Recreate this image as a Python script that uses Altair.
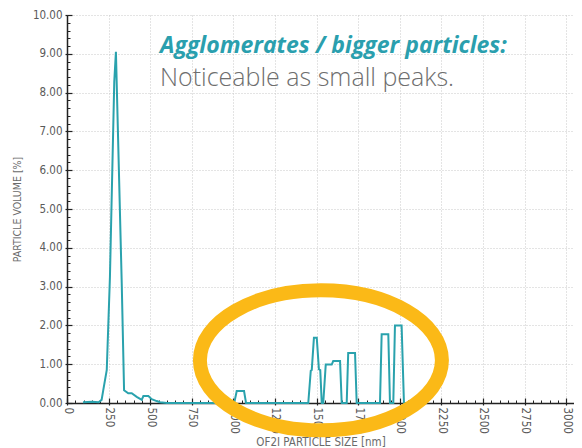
import altair as alt
import pandas as pd

# ---- data ----
size_nm = [96, 150, 190, 208, 218, 239, 258, 284, 294, 329, 343, 368, 389, 419, 449, 459,
           489, 509, 539, 559, 600, 1005, 1020, 1064, 1076, 1450, 1465, 1471, 1484, 1501,
           1514, 1522, 1531, 1540, 1555, 1591, 1600, 1641, 1651, 1681, 1690, 1731, 1741,
           1881, 1891, 1931, 1941, 1961, 1971, 2011, 2025, 2100]
volume = [0.02, 0.03, 0.02, 0.08, 0.33, 0.85, 3.24, 8.28, 9.05, 3.07, 0.33, 0.25, 0.25,
          0.16, 0.08, 0.18, 0.18, 0.10, 0.05, 0.02, 0.0, 0.0, 0.31, 0.31, 0.0, 0.0, 0.83,
          0.85, 1.68, 1.68, 0.87, 0.85, 0.0, 0.0, 0.99, 0.99, 1.08, 1.08, 0.0, 0.0, 1.29,
          1.29, 0.0, 0.0, 1.77, 1.77, 0.0, 0.0, 2.0, 2.0, 0.0, 0.0]

x_ticks = [0, 250, 500, 750, 1000, 1250, 1500, 1750, 2000, 2250, 2500, 2750, 3000]
x_minor = list(range(0, 3050, 50))
y_ticks = [0, 1, 2, 3, 4, 5, 6, 7, 8, 9, 10]
y_minor = [round(i * 0.2, 1) for i in range(0, 51)]

headline = "Agglomerates / bigger particles:"
subline = "Noticeable as small peaks."
x_title = "OF2I PARTICLE SIZE [nm]"
y_title = "PARTICLE VOLUME [%]"

# annotation anchor positions (data coordinates)
ellipse_center = {"x": 1526, "y": 1.1}
text_x = 559
headline_y = 9.03
subline_y = 8.17

df = pd.DataFrame({"size": size_nm, "volume": volume})

TEAL = "#2aa2ad"
ORANGE = "#fbb917"
GREY = "#5a5a5a"
DARK = "#222222"
AXFONT = "DejaVu Sans Condensed, DejaVu Sans, sans-serif"

xscale = alt.Scale(domain=[0, 3047], nice=False, zero=False)
yscale = alt.Scale(domain=[0, 10], nice=False)

major_x_axis = alt.Axis(
    orient="bottom", values=x_ticks, title=x_title, labelAngle=90, format="d",
    labelFont=AXFONT, labelFontSize=11.5, labelColor=GREY,
    labelPadding=2, titleFont=AXFONT, titleFontSize=11.5,
    titleFontWeight="normal", titleColor="#6a6a6a", titlePadding=3,
    grid=True, gridColor="#c8c8c8", gridDash=[1, 2], gridWidth=1,
    domainColor=DARK, domainWidth=1.5, tickColor=DARK, tickWidth=1.2, tickSize=2,
)
major_y_axis = alt.Axis(
    orient="left", values=y_ticks, title=y_title, format=".2f",
    labelFont=AXFONT, labelFontSize=11.5, labelColor=GREY,
    labelPadding=3, titleFont=AXFONT, titleFontSize=10.5,
    titleFontWeight="normal", titleColor="#6a6a6a", titlePadding=10,
    grid=True, gridColor="#c8c8c8", gridDash=[1, 2], gridWidth=1,
    domainColor=DARK, domainWidth=1.5, tickColor=DARK, tickWidth=1.2, tickSize=2,
)
# inward major ticks
in_x_axis = alt.Axis(
    orient="bottom", values=x_ticks, title=None, labels=False, grid=False, domain=False,
    tickColor=DARK, tickWidth=1.2, tickSize=5, offset=-5,
)
in_y_axis = alt.Axis(
    orient="left", values=y_ticks, title=None, labels=False, grid=False, domain=False,
    tickColor=DARK, tickWidth=1.2, tickSize=5, offset=-5,
)
# inward minor ticks
minor_x_axis = alt.Axis(
    orient="bottom", values=x_minor, title=None, labels=False, grid=False, domain=False,
    tickColor=DARK, tickWidth=1, tickSize=3, offset=-3,
)
minor_y_axis = alt.Axis(
    orient="left", values=y_minor, title=None, labels=False, grid=False, domain=False,
    tickColor=DARK, tickWidth=1, tickSize=3, offset=-3,
)

line = alt.Chart(df).mark_line(color=TEAL, strokeWidth=2, interpolate="linear").encode(
    x=alt.X("size:Q", scale=xscale, axis=major_x_axis),
    y=alt.Y("volume:Q", scale=yscale, axis=major_y_axis),
)

k = 0.5523
ry = 0.5785
ell_path = (f"M 1 0 C 1 {ry*k:.4f} {k} {ry} 0 {ry} C {-k} {ry} -1 {ry*k:.4f} -1 0 "
            f"C -1 {-ry*k:.4f} {-k} {-ry} 0 {-ry} C {k} {-ry} 1 {-ry*k:.4f} 1 0 Z")

ellipse = alt.Chart(pd.DataFrame({"x": [ellipse_center["x"]], "y": [ellipse_center["y"]]})).mark_point(
    shape=ell_path, size=58564, filled=False, stroke=ORANGE, strokeWidth=14, opacity=1
).encode(
    x=alt.X("x:Q", scale=xscale, axis=in_x_axis),
    y=alt.Y("y:Q", scale=yscale, axis=in_y_axis),
)

txt_df = pd.DataFrame({
    "x": [text_x, text_x],
    "y": [headline_y, subline_y],
    "t": [headline, subline],
})
head = alt.Chart(txt_df.iloc[[0]]).mark_text(
    align="left", baseline="alphabetic", font="Open Sans", fontSize=23, fontStyle="italic",
    fontWeight="bold", color="#2a9fae"
).encode(x=alt.X("x:Q", scale=xscale, axis=minor_x_axis),
         y=alt.Y("y:Q", scale=yscale, axis=minor_y_axis), text="t:N")
sub = alt.Chart(txt_df.iloc[[1]]).mark_text(
    align="left", baseline="alphabetic", font="Open Sans", fontSize=25, fontWeight=300,
    color="#6e6e6e"
).encode(x=alt.X("x:Q", scale=xscale, axis=None),
         y=alt.Y("y:Q", scale=yscale, axis=None), text="t:N")

chart = alt.layer(line, ellipse, head, sub).resolve_axis(
    x="independent", y="independent"
).properties(
    width=507, height=388,
    autosize=alt.AutoSizeParams(type="none"),
    padding={"left": 59, "top": 7, "right": 0, "bottom": 45},
).configure_view(stroke=None)

chart.save("out.html", embed_options={"renderer": "svg", "actions": False})
